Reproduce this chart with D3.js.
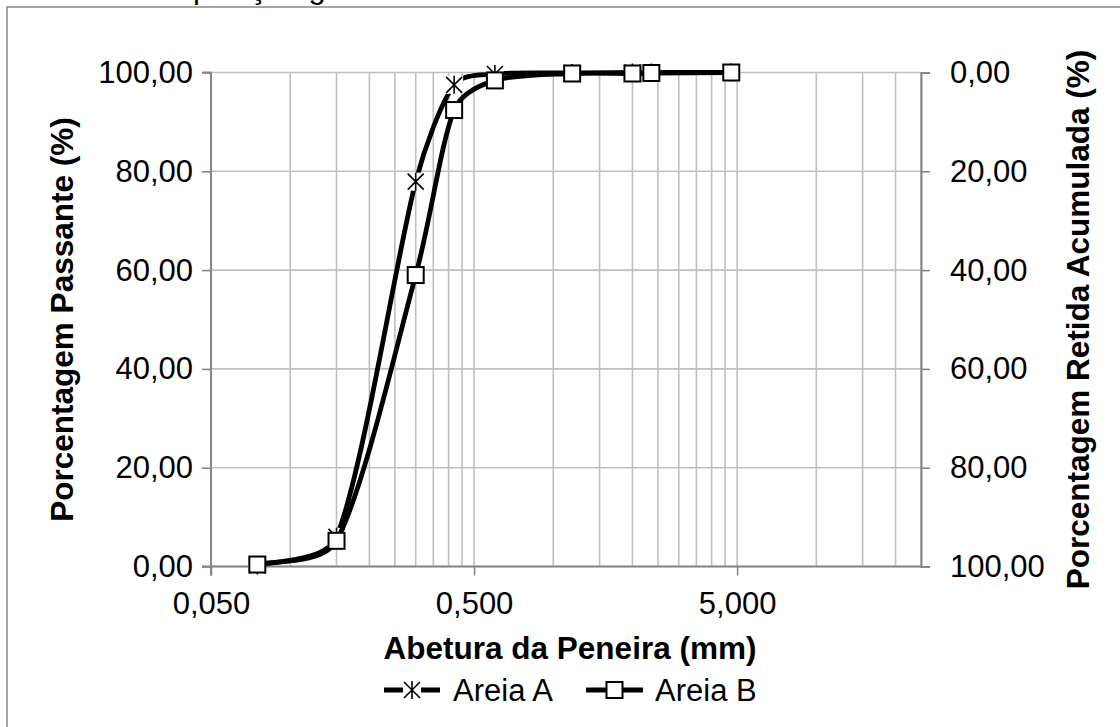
<!DOCTYPE html>
<html><head><meta charset="utf-8">
<script src="https://cdn.jsdelivr.net/npm/d3@7/dist/d3.min.js"></script>
<style>
body{margin:0;background:#fff}
svg{display:block}
text{font-family:"Liberation Sans",Arial,sans-serif;fill:#000}
</style>
</head><body>
<svg id="c" width="1120" height="727"></svg>
<script>
// ---- data ----
const sieves = [0.075, 0.15, 0.3, 0.42, 0.6, 1.18, 2.0, 2.36, 4.75];
const areiaA = [0.2, 6.0, 77.9, 97.5, 99.7, 99.9, 100, 100, 100];
const areiaB = [0.4, 5.2, 59.0, 92.4, 98.4, 99.8, 99.8, 99.9, 100];
const seriesNames = ["Areia A", "Areia B"];
const yTicks = [0, 20, 40, 60, 80, 100];
const xMajorTicks = [0.05, 0.5, 5];
const xMinorTicks = [0.1,0.15,0.2,0.25,0.3,0.35,0.4,0.45,1,1.5,2,2.5,3,3.5,4,4.5,10,15,20,25];
const caption = "Figura 1 – Curva de composição granulométrica";

// ---- layout ----
const svg = d3.select("#c");
const L = 211, R = 921, T = 72.5, B = 566.5;
const x = d3.scaleLog().domain([0.05, 25]).range([L, R]);
const y = d3.scaleLinear().domain([0, 100]).range([B, T]);
const y2 = d3.scaleLinear().domain([100, 0]).range([B, T]);
const fmt2 = v => d3.format(".2f")(v).replace(".", ",");
const fmt3 = v => d3.format(".3f")(v).replace(".", ",");
const gridC = "#bfbfbf", axisC = "#868686";

// caption fragment (cut off at top, only descenders visible)
const cap = svg.append("text").attr("y", -2.5).style("font-size", "31px").text(caption);
const pIdx = caption.indexOf("p");
const off = cap.node().getSubStringLength(0, pIdx);
cap.attr("x", 193 - off);

// outer frame
svg.append("rect").attr("x", 7).attr("y", 7).attr("width", 1200).attr("height", 800)
  .attr("fill", "none").attr("stroke", "#888").attr("stroke-width", 1.5);

// gridlines
const g = svg.append("g");
g.selectAll(".vg").data(xMajorTicks.concat(xMinorTicks)).join("line")
  .attr("x1", d => x(d)).attr("x2", d => x(d)).attr("y1", T).attr("y2", B)
  .attr("stroke", gridC).attr("stroke-width", 1.6);
g.selectAll(".hg").data(yTicks).join("line")
  .attr("x1", L).attr("x2", R).attr("y1", d => y(d)).attr("y2", d => y(d))
  .attr("stroke", gridC).attr("stroke-width", 1.6);

// axes
const axL = d3.axisLeft(y).tickValues(yTicks).tickFormat(fmt2).tickSize(9).tickPadding(9);
const axR = d3.axisRight(y2).tickValues(yTicks).tickFormat(fmt2).tickSize(9).tickPadding(20);
const axB = d3.axisBottom(x).tickValues(xMajorTicks).tickFormat(fmt3).tickSize(9).tickPadding(16);
function style(sel){
  sel.select(".domain").attr("stroke", axisC).attr("stroke-width", 2);
  sel.selectAll(".tick line").attr("stroke", axisC).attr("stroke-width", 1.6);
  sel.selectAll(".tick text").style("font-size", "31px").attr("fill", "#000")
    .style("font-family", '"Liberation Sans",Arial,sans-serif');
}
svg.append("g").attr("transform", `translate(${L},0)`).call(axL).call(style)
  .call(s => s.select(".domain").attr("d", `M-9,${T}H0V${B}H-9`));
svg.append("g").attr("transform", `translate(${R},0)`).call(axR).call(style)
  .call(s => s.selectAll(".tick text").attr("x", 29));
svg.append("g").attr("transform", `translate(0,${B})`).call(axB).call(style)
  .call(s => s.select(".domain").attr("d", `M${L},9V0H${R}`));

// axis titles
const tf = "31.5px";
svg.append("text").attr("transform", `translate(73,${(T+B)/2}) rotate(-90)`)
  .attr("text-anchor", "middle").style("font-size", tf).style("font-weight", "bold")
  .text("Porcentagem Passante (%)");
svg.append("text").attr("transform", `translate(1089,${(T+B)/2}) rotate(-90)`)
  .attr("text-anchor", "middle").style("font-size", tf).style("font-weight", "bold")
  .text("Porcentagem Retida Acumulada (%)");
svg.append("text").attr("x", (L+R)/2 + 4).attr("y", 659)
  .attr("text-anchor", "middle").style("font-size", tf).style("font-weight", "bold")
  .text("Abetura da Peneira (mm)");

// Excel-like smoothed line (Catmull-Rom tangents, capped to 1/3 of the segment)
function smoothPath(pts){
  const n = pts.length, p = d3.path();
  const tan = pts.map((q, i) => {
    const a = pts[Math.max(0, i - 1)], b = pts[Math.min(n - 1, i + 1)];
    return [(b[0] - a[0]) / 6, (b[1] - a[1]) / 6];
  });
  const cap = (t, len) => {
    const m = Math.hypot(t[0], t[1]), lim = len / 3;
    return m > lim ? [t[0] * lim / m, t[1] * lim / m] : t;
  };
  p.moveTo(pts[0][0], pts[0][1]);
  for (let i = 0; i < n - 1; i++) {
    const P = pts[i], Q = pts[i + 1];
    const len = Math.hypot(Q[0] - P[0], Q[1] - P[1]);
    const t1 = cap(tan[i], len), t2 = cap(tan[i + 1], len);
    p.bezierCurveTo(P[0] + t1[0], P[1] + t1[1], Q[0] - t2[0], Q[1] - t2[1], Q[0], Q[1]);
  }
  return p.toString();
}
const dA = sieves.map((s, i) => [s, areiaA[i]]);
const dB = sieves.map((s, i) => [s, areiaB[i]]);
const toPx = d => d.map(v => [x(v[0]), y(v[1])]);

function asterisk(sel){
  sel.append("rect").attr("x", -9).attr("y", -9).attr("width", 18).attr("height", 18).attr("fill", "#fff");
  sel.append("path").attr("d", "M-8,-8L8,8M8,-8L-8,8M0,-9V9")
    .attr("stroke", "#000").attr("stroke-width", 1.6).attr("fill", "none");
}
function square(sel){
  sel.append("rect").attr("x", -8).attr("y", -8).attr("width", 16).attr("height", 16)
    .attr("fill", "#fff").attr("stroke", "#000").attr("stroke-width", 2);
}

svg.append("path").attr("d", smoothPath(toPx(dA))).attr("fill", "none").attr("stroke", "#000").attr("stroke-width", 4.8);
svg.selectAll(".mA").data(dA).join("g").attr("transform", d => `translate(${x(d[0])},${y(d[1])})`).each(function(){ asterisk(d3.select(this)); });
svg.append("path").attr("d", smoothPath(toPx(dB))).attr("fill", "none").attr("stroke", "#000").attr("stroke-width", 4.8);
svg.selectAll(".mB").data(dB).join("g").attr("transform", d => `translate(${x(d[0])},${y(d[1])})`).each(function(){ square(d3.select(this)); });

// legend
const ly = 690;
const leg = [{x0: 384, x1: 440, tx: 453, m: asterisk, name: seriesNames[0]},
             {x0: 586, x1: 643, tx: 655, m: square, name: seriesNames[1]}];
leg.forEach(d => {
  svg.append("line").attr("x1", d.x0).attr("x2", d.x1).attr("y1", ly).attr("y2", ly)
    .attr("stroke", "#000").attr("stroke-width", 4.8);
  const m = svg.append("g").attr("transform", `translate(${(d.x0+d.x1)/2},${ly})`);
  d.m(m);
  svg.append("text").attr("x", d.tx).attr("y", ly + 11).style("font-size", "31px").text(d.name);
});
</script>
</body></html>
